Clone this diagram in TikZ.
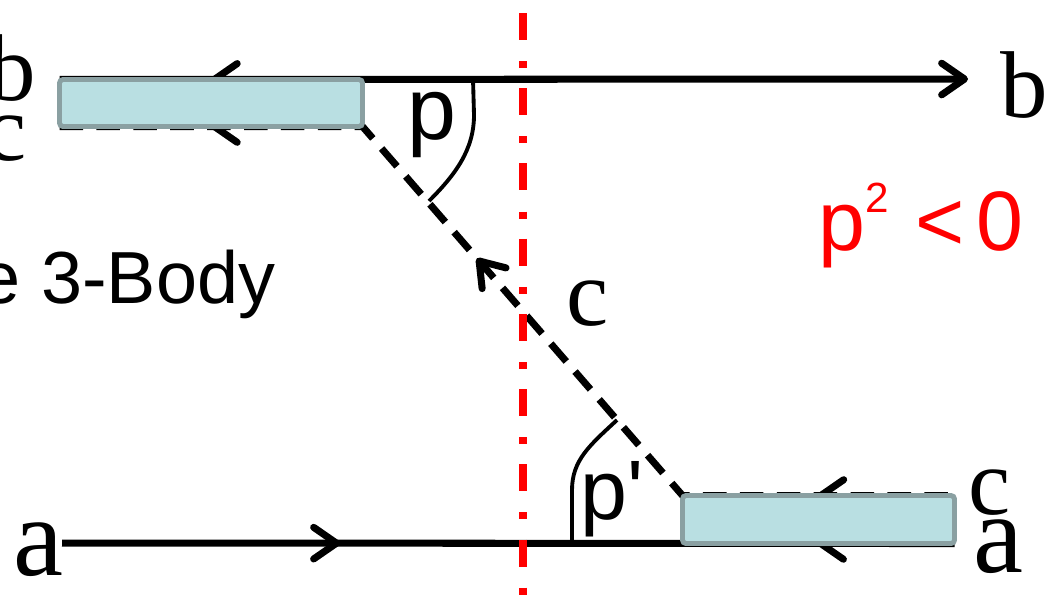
\documentclass[tikz,border=0pt]{standalone}
\usepackage{fontspec}
\setmainfont{Liberation Serif}
\newfontfamily\arialfont{Liberation Sans}
\usetikzlibrary{arrows.meta,decorations.markings,backgrounds}
\definecolor{blobfill}{RGB}{185,223,226}
\definecolor{blobedge}{RGB}{138,160,162}

\begin{document}
\begin{tikzpicture}[x=0.1mm, y=-0.1mm,
		>={Straight Barb[length=6.5pt, width=9pt, round]},
		line/.style = {line width=2pt},
		ghost/.style = {line, dash pattern=on 6.7pt off 3.8pt},
		cut/.style = {red, line width=2.3pt, dash pattern=on 7.7pt off 6pt on 2pt off 5.7pt},
		blob/.style = {draw=blobedge, fill=blobfill, line width=1.4pt, rounded corners=1pt, inner sep=0pt, outer sep=0pt},
		lbl/.style = {inner sep=0pt, font=\fontsize{27}{30}\selectfont},
		biglbl/.style = {inner sep=0pt, font=\fontsize{32}{36}\selectfont},
		sans/.style = {inner sep=0pt, font=\arialfont\fontsize{#1}{#1}\selectfont},
		angle/.style = {line width=1.1pt}]
	\useasboundingbox (0,0) rectangle (1051,608);
	\clip (0,0) rectangle (1051,608);
	
	\node[blob, minimum width=30.3mm, minimum height=4.7mm] (topblob) at (211,103) {};
	\node[blob, minimum width=27.2mm, minimum height=4.8mm] (botblob) at (818.5,519.5) {};
	\coordinate (bout) at (968,79);
	\coordinate (ain) at (62,543);
	
	\begin{scope}[on background layer]
		\draw[line, ->, postaction={decorate}, decoration={markings, mark=at position 0.1666 with {\arrowreversed{>}}}] (topblob.north west) -- (bout);
		\draw[ghost, postaction={decorate}, decoration={markings,
				mark=at position 0.1423 with {\arrowreversed{>}},
				mark=at position 0.449 with {\arrowreversed{>}},
				mark=at position 0.871 with {\arrowreversed{>}}}]
			(topblob.south west) -- (topblob.south east) -- (botblob.north west) -- (botblob.north east);
		\draw[line, postaction={decorate}, decoration={markings,
				mark=at position 0.3115 with {\arrow{>}},
				mark=at position 0.846 with {\arrowreversed{>}}}] (ain) -- (botblob.south east);
		% angle marks
		\draw[angle] (473,79) -- (474,115) .. controls (474,150) and (455,175) .. (429,201);
		\draw[angle] (572,543) -- (572,490) .. controls (572,460) and (590,445) .. (617,420);
	\end{scope}
	
	\coordinate (cuttop) at (523,13);
	\coordinate (cutbot) at (523,620);
	\draw[cut] (cuttop) -- (cutbot);
	
	\node[lbl, anchor=base east] (bleft) at (37,100) {b};
	\node[lbl, anchor=base east] (cleft) at (27,160) {c};
	\node[lbl, anchor=base west] (bright) at (1000,117) {b};
	\node[lbl, anchor=base west] (cright) at (968,514) {c};
	\node[biglbl, anchor=base west] (aleft) at (13,575) {a};
	\node[biglbl, anchor=base west] (aright) at (973,572) {a};
	\node[lbl, anchor=base west] (cmid) at (566,325) {c};
	\node[sans=25, anchor=base west] (pname) at (407,139) {p};
	\node[sans=24, anchor=base west] (pprime) at (580,519) {p\textquotesingle};
	\node[sans=21, anchor=base east] (body) at (276,303) {e 3-Body};
	\node[sans=24, red, anchor=base west] (sign) at (818,250)
		{p\raisebox{10.8pt}{\fontsize{12}{12}\selectfont 2}\hspace{7.4pt}<\hspace{3.4pt}0};
\end{tikzpicture}
\end{document}
